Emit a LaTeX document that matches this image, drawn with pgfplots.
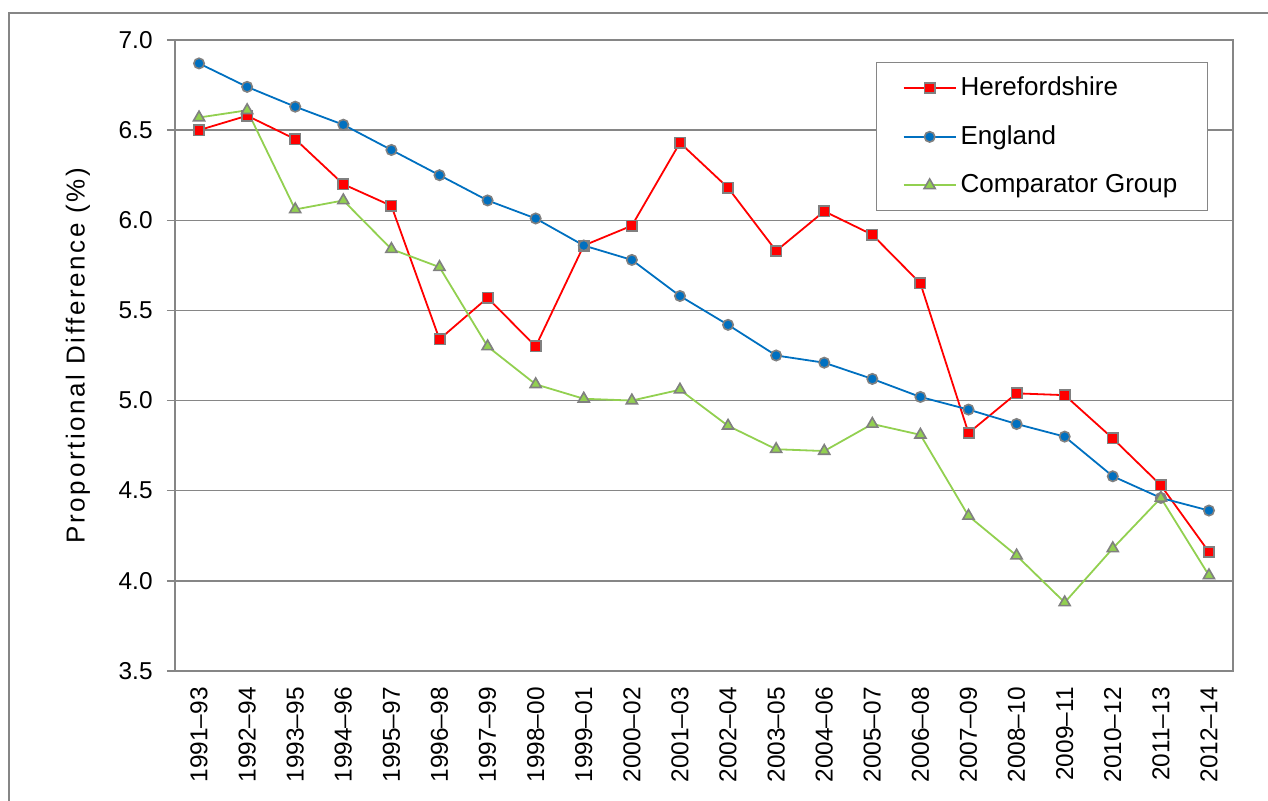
\documentclass[border=0pt]{standalone}
\usepackage{fontspec}
\setmainfont{Liberation Sans}
\newfontfamily\labelfont[LetterSpace=10]{Liberation Sans}
\usepackage{pgfplots}
\pgfplotsset{compat=1.18}

\definecolor{hereRed}{RGB}{255,0,0}
\definecolor{engBlue}{RGB}{0,112,192}
\definecolor{compGreen}{RGB}{146,208,80}
\definecolor{markGray}{RGB}{128,128,128}
\definecolor{gridGray}{RGB}{134,134,134}

% x = period index (0 = 1991-93 ... 21 = 2012-14)
\pgfplotstableread{
x  here  eng   comp
0  6.50  6.87  6.57
1  6.58  6.74  6.61
2  6.45  6.63  6.06
3  6.20  6.53  6.11
4  6.08  6.39  5.84
5  5.34  6.25  5.74
6  5.57  6.11  5.30
7  5.30  6.01  5.09
8  5.86  5.86  5.01
9  5.97  5.78  5.00
10 6.43  5.58  5.06
11 6.18  5.42  4.86
12 5.83  5.25  4.73
13 6.05  5.21  4.72
14 5.92  5.12  4.87
15 5.65  5.02  4.81
16 4.82  4.95  4.36
17 5.04  4.87  4.14
18 5.03  4.80  3.88
19 4.79  4.58  4.18
20 4.53  4.46  4.46
21 4.16  4.39  4.03
}\datatable

\begin{document}
\begin{tikzpicture}
\useasboundingbox (-87.5pt,-65pt) rectangle (546.5pt,335.5pt);
\begin{axis}[
    scale only axis,
    width=529pt, height=315.5pt,
    xmin=-0.5, xmax=21.5,
    ymin=3.5, ymax=7,
    axis line style={draw=gridGray, line width=0.7pt},
    tick style={draw=gridGray, line width=0.7pt},
    tick align=outside,
    xtick pos=bottom, ytick pos=left,
    major tick length=4pt,
    minor tick length=2.5pt,
    xtick=\empty,
    minor xtick={-0.5,0.5,...,21.5},
    extra x ticks={0,1,...,21},
    extra x tick labels={1991--93,1992--94,1993--95,1994--96,1995--97,1996--98,1997--99,1998--00,1999--01,2000--02,2001--03,2002--04,2003--05,2004--06,2005--07,2006--08,2007--09,2008--10,2009--11,2010--12,2011--13,2012--14},
    extra x tick style={grid=none, major tick length=0pt},
    xticklabel style={rotate=90, anchor=east, inner sep=0pt, font=\fontsize{12.2}{14}\selectfont},
    xticklabel shift=8pt,
    ytick={3.5,4,...,7},
    yticklabel style={inner sep=0pt, font=\fontsize{12.2}{14}\selectfont,
        /pgf/number format/.cd, fixed, fixed zerofill, precision=1, assume math mode=true},
    yticklabel shift=7pt,
    ymajorgrids,
    grid style={draw=gridGray, line width=0.7pt},
    ylabel={\labelfont Proportional Difference (\%)},
    ylabel style={at={(axis description cs:-0.0917,0.5)}, anchor=center, rotate=0,
        font=\fontsize{13}{15}\selectfont},
    legend style={at={(0.9764,0.9651)}, anchor=north east, draw=gridGray, line width=0.7pt,
        fill=white, inner xsep=13pt, inner ysep=5.2pt, row sep=9.5pt,
        font=\fontsize{13}{15}\selectfont},
    legend cell align=left,
    legend image code/.code={\draw[mark repeat=2,mark phase=2] plot coordinates {(0pt,0pt) (13pt,0pt) (26pt,0pt)};},
]
\addplot[hereRed, line width=0.9pt, mark=square*, mark size=2.6pt,
    mark options={fill=hereRed, draw=markGray, line width=0.8pt}]
    table[x=x, y=here] {\datatable};
\addplot[engBlue, line width=0.9pt, mark=*, mark size=2.6pt,
    mark options={fill=engBlue, draw=markGray, line width=0.8pt}]
    table[x=x, y=eng] {\datatable};
\addplot[compGreen, line width=0.9pt, mark=triangle*, mark size=3.2pt,
    mark options={fill=compGreen, draw=markGray, line width=0.8pt}]
    table[x=x, y=comp] {\datatable};
\legend{Herefordshire, England, Comparator Group}
\end{axis}
\draw[gridGray, line width=0.7pt] (-83pt,-65pt) -- (-83pt,329pt) -- (546.5pt,329pt);
\end{tikzpicture}
\end{document}
